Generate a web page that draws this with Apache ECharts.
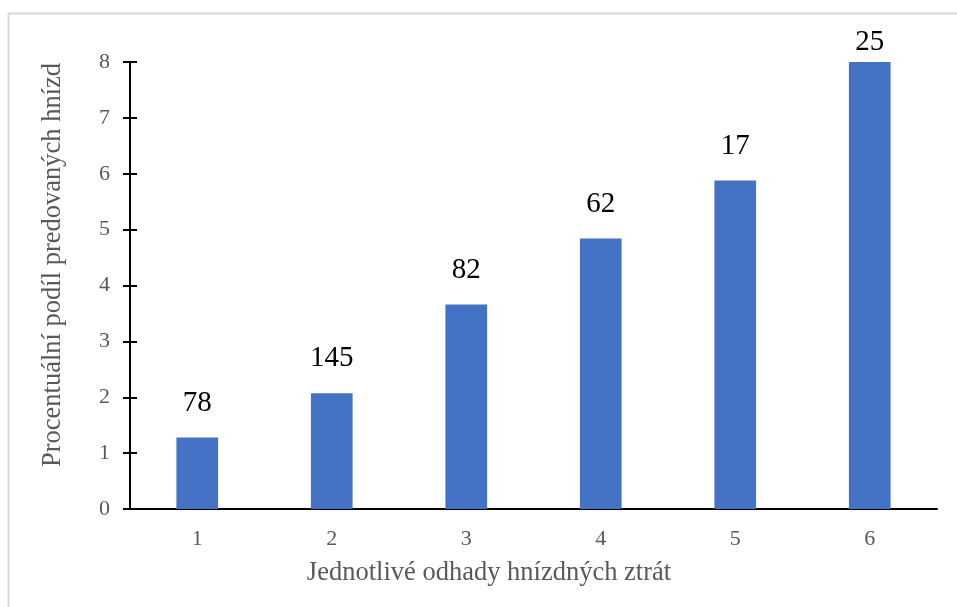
<!DOCTYPE html>
<html>
<head>
<meta charset="utf-8">
<script src="https://cdn.jsdelivr.net/npm/echarts@6/dist/echarts.min.js"></script>
<style>
html,body{margin:0;padding:0;background:#fff;}
#chart{width:957px;height:607px;}
</style>
</head>
<body>
<div id="chart"></div>
<script>
const categories = ['1', '2', '3', '4', '5', '6'];
const values = [1.28, 2.07, 3.66, 4.84, 5.88, 8.0];
const barLabels = ['78', '145', '82', '62', '17', '25'];
const yTicks = { min: 0, max: 8, interval: 1 };
const xTitle = 'Jednotlivé odhady hnízdných ztrát';
const yTitle = 'Procentuální podíl predovaných hnízd';

const FONT = '"Liberation Serif", "Times New Roman", serif';
const chart = echarts.init(document.getElementById('chart'), null, { renderer: 'canvas' });

const seriesData = values.map((v, i) => (
  i === values.length - 1 ? { value: v, label: { distance: 5 } } : v
));

const option = {
  animation: false,
  backgroundColor: '#ffffff',
  grid: { left: 130, right: 20, top: 62, bottom: 98, containLabel: false },
  title: {
    text: xTitle,
    left: 484,
    top: 555,
    textAlign: 'center',
    textStyle: { fontFamily: FONT, fontSize: 26.5, fontWeight: 'normal', color: '#595959' }
  },
  graphic: [
    {
      type: 'rect', silent: true, z: -1,
      shape: { x: 8.5, y: 13.5, width: 1000, height: 1000 },
      style: { fill: 'none', stroke: '#d9d9d9', lineWidth: 2 }
    },
    {
      type: 'text',
      x: 53, y: 265,
      rotation: Math.PI / 2,
      style: {
        text: yTitle,
        fontFamily: FONT, fontSize: 26.5, fill: '#595959',
        align: 'center', verticalAlign: 'middle'
      }
    }
  ],
  xAxis: {
    type: 'category',
    data: categories,
    axisLine: { show: true, lineStyle: { color: '#000', width: 2 } },
    axisTick: { show: false },
    axisLabel: { fontFamily: FONT, fontSize: 22, color: '#595959', margin: 19 },
    splitLine: { show: false }
  },
  yAxis: [
    {
      type: 'value',
      min: yTicks.min, max: yTicks.max, interval: yTicks.interval,
      axisLine: { show: true, lineStyle: { color: '#000', width: 2 } },
      axisTick: { show: true, inside: false, length: 7, lineStyle: { color: '#000', width: 2 } },
      axisLabel: { fontFamily: FONT, fontSize: 22, color: '#595959', margin: 20 },
      splitLine: { show: false }
    },
    {
      type: 'value', position: 'left',
      min: yTicks.min, max: yTicks.max, interval: yTicks.interval,
      axisLine: { show: false },
      axisTick: { show: true, inside: true, length: 7, lineStyle: { color: '#000', width: 2 } },
      axisLabel: { show: false },
      splitLine: { show: false }
    }
  ],
  series: [{
    type: 'bar',
    data: seriesData,
    barWidth: '31%',
    itemStyle: { color: '#4472C4' },
    label: {
      show: true,
      position: 'top',
      distance: 20,
      fontFamily: FONT,
      fontSize: 29,
      color: '#000',
      formatter: p => barLabels[p.dataIndex]
    }
  }]
};
chart.setOption(option);
</script>
</body>
</html>
